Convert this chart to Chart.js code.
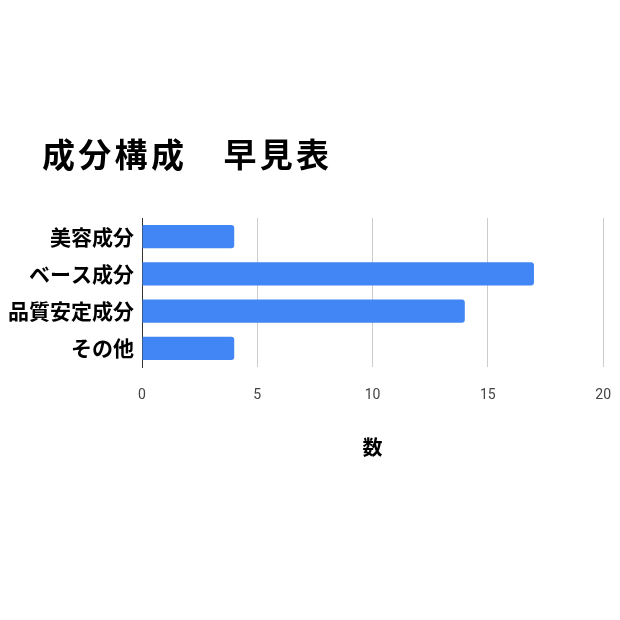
<!DOCTYPE html>
<html>
<head>
<meta charset="utf-8">
<script src="https://cdn.jsdelivr.net/npm/chart.js@4/dist/chart.umd.min.js"></script>
<style>
  html, body { margin: 0; padding: 0; background: #fff; }
  #wrap { width: 620px; height: 620px; }
</style>
</head>
<body>
<div id="wrap"><canvas id="myChart" width="620" height="620"></canvas></div>
<script>
const chartTitle = "成分構成　早見表";
const categories = ["美容成分", "ベース成分", "品質安定成分", "その他"];
const counts = [4, 17, 14, 4];
const xTicks = [0, 5, 10, 15, 20];
const xAxisTitle = "数";

const jpFont = "'Noto Sans CJK JP', 'Noto Sans', sans-serif";

// draws the big title at top-left, like the sheet chart
const titlePlugin = {
  id: "sheetTitle",
  afterDraw(chart) {
    const ctx = chart.ctx;
    ctx.save();
    ctx.font = "bold 33px " + jpFont;
    ctx.letterSpacing = "3.3px";
    ctx.fillStyle = "#000";
    ctx.textBaseline = "middle";
    ctx.textAlign = "left";
    ctx.fillText(chartTitle, 42, 154);
    ctx.restore();
  },
};

const data = {
  labels: categories,
  datasets: [
    {
      label: xAxisTitle,
      data: counts,
      backgroundColor: "#4285f4",
      borderRadius: 3,
      borderSkipped: "start",
      categoryPercentage: 0.63,
      barPercentage: 1,
    },
  ],
};

const config = {
  type: "bar",
  data: data,
  plugins: [titlePlugin],
  options: {
    indexAxis: "y",
    responsive: false,
    animation: false,
    layout: {
      padding: { top: 218, left: 6, right: 10, bottom: 150 },
    },
    plugins: {
      legend: { display: false },
      tooltip: { enabled: false },
    },
    scales: {
      x: {
        min: 0,
        max: 20,
        afterBuildTicks: (scale) => {
          scale.ticks = xTicks.map((v) => ({ value: v }));
        },
        afterFit: (scale) => {
          scale.height = 103;
        },
        grid: { color: "#cccccc", drawTicks: true, tickLength: 11, tickColor: "rgba(0,0,0,0)" },
        border: { display: false },
        ticks: {
          color: "#444",
          padding: 9,
          font: { family: "Roboto, sans-serif", size: 14 },
        },
        title: {
          display: true,
          text: xAxisTitle,
          color: "#000",
          font: { family: jpFont, size: 20, weight: "bold" },
          padding: { top: 0, bottom: 11 },
        },
      },
      y: {
        afterFit: (scale) => {
          scale.width = 136;
        },
        grid: { display: false, drawTicks: false },
        border: { display: true, color: "#333", width: 1 },
        ticks: {
          color: "#000",
          padding: 8,
          font: { family: jpFont, size: 21, weight: "bold" },
        },
      },
    },
  },
};

new Chart(document.getElementById("myChart"), config);
</script>
</body>
</html>
